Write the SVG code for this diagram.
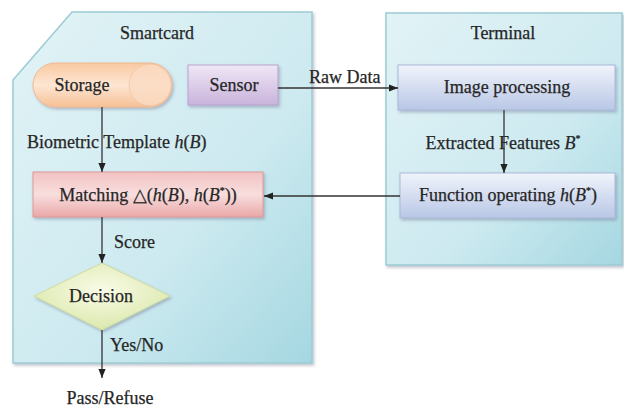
<svg xmlns="http://www.w3.org/2000/svg" width="624" height="407" viewBox="0 0 624 407">
<style>
text{font-family:"Liberation Serif","Times New Roman",serif;font-size:18px;fill:#262626;stroke:#262626;stroke-width:0.25}
.c{text-anchor:middle}
.ln{fill:none;stroke:#333;stroke-width:1.3}
.panel{stroke:#9ccbd4;stroke-width:1.5}
</style>
<defs>
<linearGradient id="gPanel" x1="0" y1="0" x2="1" y2="1">
<stop offset="0" stop-color="#e2f3f6"/><stop offset="0.6" stop-color="#cdeaf0"/><stop offset="1" stop-color="#a5d7e1"/>
</linearGradient>
<linearGradient id="gStor" x1="0" y1="0" x2="0" y2="1">
<stop offset="0" stop-color="#f9c9a1"/><stop offset="0.5" stop-color="#fde6d3"/><stop offset="1" stop-color="#f6c096"/>
</linearGradient>
<linearGradient id="gSens" x1="0" y1="0" x2="0" y2="1">
<stop offset="0" stop-color="#efe7f5"/><stop offset="1" stop-color="#c9b3dc"/>
</linearGradient>
<linearGradient id="gMatch" x1="0" y1="0" x2="0" y2="1">
<stop offset="0" stop-color="#f3c2c2"/><stop offset="0.5" stop-color="#f8dede"/><stop offset="1" stop-color="#eaa7a7"/>
</linearGradient>
<linearGradient id="gBlue" x1="0" y1="0" x2="0" y2="1">
<stop offset="0" stop-color="#f0f4fb"/><stop offset="1" stop-color="#b9c7e6"/>
</linearGradient>
<radialGradient id="gDec" cx="0.5" cy="0.4" r="0.6">
<stop offset="0" stop-color="#f9fbe6"/><stop offset="1" stop-color="#dbe8ad"/>
</radialGradient>
<filter id="sh" x="-10%" y="-20%" width="125%" height="150%">
<feDropShadow dx="1.5" dy="2" stdDeviation="1.5" flood-color="#557" flood-opacity="0.35"/>
</filter>
<marker id="ah" viewBox="0 0 10 10" refX="10" refY="5" markerWidth="9" markerHeight="9" markerUnits="userSpaceOnUse" orient="auto">
<path d="M0,1 L10,5 L0,9 z" fill="#222"/>
</marker>
</defs>

<g id="smartcard">
<path class="panel" d="M72,12 L312,12 L312,363 L13,363 L13,80 Z" fill="url(#gPanel)" filter="url(#sh)"/>
<text class="c" x="157" y="39">Smartcard</text>
</g>
<g id="terminal">
<rect class="panel" x="386" y="13" width="236" height="252" fill="url(#gPanel)" filter="url(#sh)"/>
<text class="c" x="503" y="39">Terminal</text>
</g>

<g id="storage">
<rect x="33" y="63" width="139" height="44" rx="22" fill="url(#gStor)" stroke="#f0b890" filter="url(#sh)"/>
<ellipse cx="150" cy="85" rx="21" ry="21" fill="#fbdcc4" stroke="#f3c3a0" opacity="0.8"/>
<text class="c" x="82" y="91">Storage</text>
</g>
<g id="sensor">
<rect x="188" y="65" width="90" height="40" fill="url(#gSens)" stroke="#b9a3cf" filter="url(#sh)"/>
<text class="c" x="234" y="91">Sensor</text>
</g>
<g id="image-processing">
<rect x="398" y="65" width="217" height="45" fill="url(#gBlue)" stroke="#aab8d8" filter="url(#sh)"/>
<text class="c" x="507" y="93">Image processing</text>
</g>
<g id="function-operating">
<rect x="400" y="173" width="215" height="45" fill="url(#gBlue)" stroke="#aab8d8" filter="url(#sh)"/>
<text class="c" x="508" y="201">Function operating <tspan font-style="italic">h</tspan>(<tspan font-style="italic">B</tspan><tspan font-size="10" dy="-7">*</tspan><tspan dy="7">)</tspan></text>
</g>
<g id="matching">
<rect x="33" y="172" width="230" height="45" fill="url(#gMatch)" stroke="#dd9a9a" filter="url(#sh)"/>
<text class="c" x="148" y="201">Matching △(<tspan font-style="italic">h</tspan>(<tspan font-style="italic">B</tspan>), <tspan font-style="italic">h</tspan>(<tspan font-style="italic">B</tspan><tspan font-size="10" dy="-7">*</tspan><tspan dy="7">))</tspan></text>
</g>
<g id="decision">
<polygon points="102,263 170,296 102,330 34,296" fill="url(#gDec)" stroke="#cfdc9c" filter="url(#sh)"/>
<text class="c" x="101" y="302">Decision</text>
</g>

<g id="connectors">
<path class="ln" d="M278,88 L398,88" marker-end="url(#ah)"/>
<text x="309" y="83">Raw Data</text>
<path class="ln" d="M504,110 L504,173" marker-end="url(#ah)"/>
<text class="c" x="503" y="149">Extracted Features <tspan font-style="italic">B</tspan><tspan font-size="10" dy="-7">*</tspan></text>
<path class="ln" d="M400,196 L264,196" marker-end="url(#ah)"/>
<path class="ln" d="M102,107 L102,172" marker-end="url(#ah)"/>
<text x="27" y="148">Biometric Template <tspan font-style="italic">h</tspan>(<tspan font-style="italic">B</tspan>)</text>
<path class="ln" d="M102,217 L102,263" marker-end="url(#ah)"/>
<text x="114" y="248">Score</text>
<path class="ln" d="M102,330 L102,378" marker-end="url(#ah)"/>
<text x="110" y="351">Yes/No</text>
<text class="c" x="110" y="404">Pass/Refuse</text>
</g>
</svg>
